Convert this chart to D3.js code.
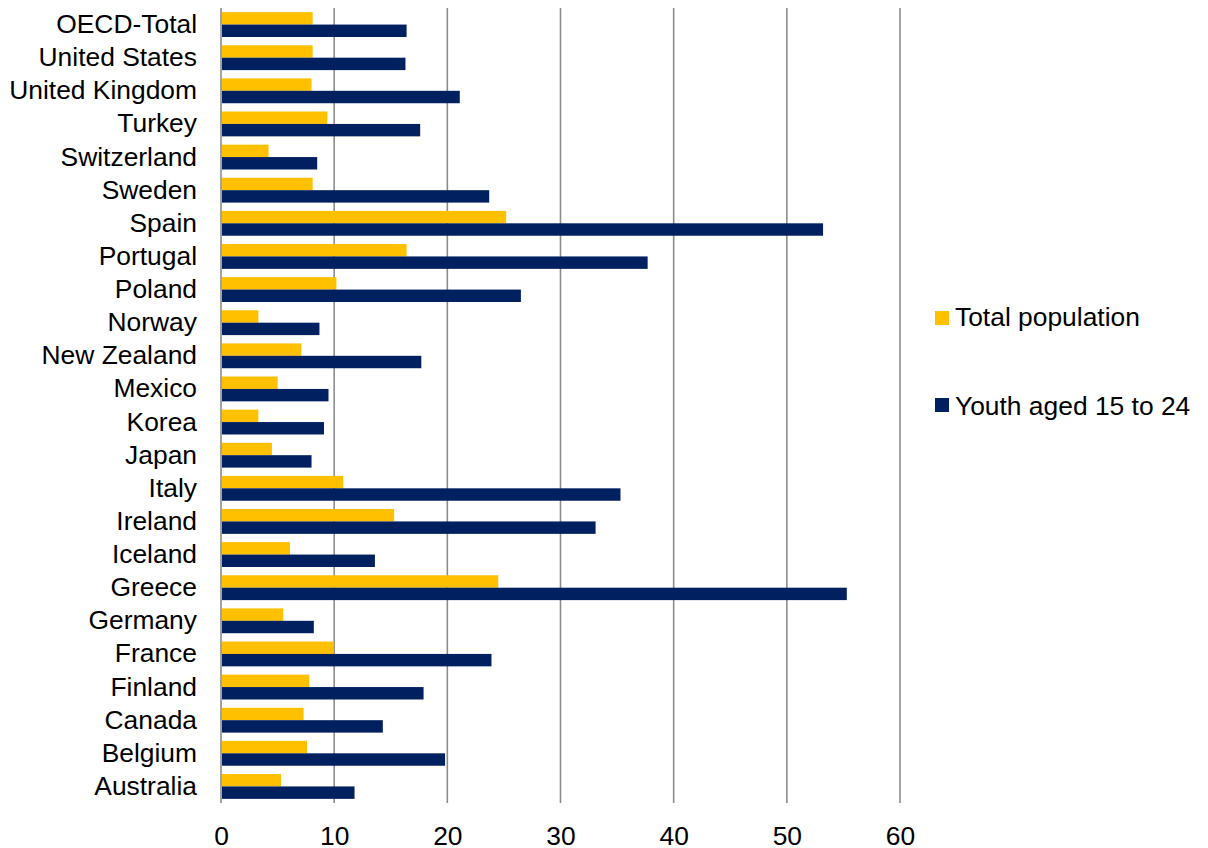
<!DOCTYPE html>
<html>
<head>
<meta charset="utf-8">
<script src="https://cdn.jsdelivr.net/npm/d3@7"></script>
<style>
  html, body { margin: 0; padding: 0; background: #fff; }
  svg { display: block; }
  text { font-family: "Liberation Sans", Arial, sans-serif; fill: #000; }
</style>
</head>
<body>
<svg id="chart" width="1208" height="848"></svg>
<script>
const categories = ["OECD-Total","United States","United Kingdom","Turkey","Switzerland","Sweden","Spain","Portugal","Poland","Norway","New Zealand","Mexico","Korea","Japan","Italy","Ireland","Iceland","Greece","Germany","France","Finland","Canada","Belgium","Australia"];
const totalPopulation = [8.1, 8.1, 8.0, 9.4, 4.2, 8.1, 25.2, 16.4, 10.2, 3.3, 7.1, 5.0, 3.3, 4.5, 10.8, 15.3, 6.1, 24.5, 5.5, 9.9, 7.8, 7.3, 7.6, 5.3];
const youth = [16.4, 16.3, 21.1, 17.6, 8.5, 23.7, 53.2, 37.7, 26.5, 8.7, 17.7, 9.5, 9.1, 8.0, 35.3, 33.1, 13.6, 55.3, 8.2, 23.9, 17.9, 14.3, 19.8, 11.8];
const xTicks = [0, 10, 20, 30, 40, 50, 60];
const seriesNames = ["Total population", "Youth aged 15 to 24"];
const seriesColors = ["#FFC000", "#002060"];

const svg = d3.select("#chart");
const pLeft = 221, pRight = 900, pTop = 8, pBottom = 803;

const x = d3.scaleLinear().domain([0, 60]).range([pLeft, pRight]);
const y = d3.scaleBand().domain(categories).range([pTop, pBottom]).paddingInner(0.25).paddingOuter(0.125);
const sub = d3.scaleBand().domain([0, 1]).range([0, y.bandwidth()]);

// gridlines
svg.append("g").selectAll("line").data(xTicks).join("line")
  .attr("x1", d => x(d)).attr("x2", d => x(d))
  .attr("y1", pTop).attr("y2", pBottom)
  .attr("stroke", "#8c8c8c").attr("stroke-width", 1.6);

// bars
const rows = categories.map((c, i) => ({ c, vals: [totalPopulation[i], youth[i]] }));
const g = svg.append("g");
rows.forEach(r => {
  r.vals.forEach((v, s) => {
    g.append("rect")
      .attr("x", x(0) + 1)
      .attr("y", y(r.c) + sub(s))
      .attr("width", x(v) - x(0) - 1)
      .attr("height", sub.bandwidth())
      .attr("fill", seriesColors[s]);
  });
});

// y labels
const yAxis = d3.axisLeft(y).tickSize(0).tickPadding(24);
const ya = svg.append("g").attr("transform", `translate(${pLeft},0)`).call(yAxis);
ya.select(".domain").remove();
ya.selectAll("text").style("font-size", "26.4px").style("font-family", '"Liberation Sans", Arial, sans-serif').attr("fill", "#000");

// x labels
const xAxis = d3.axisBottom(x).tickValues(xTicks).tickSize(0).tickPadding(0);
const xa = svg.append("g").attr("transform", `translate(0,${pBottom})`).call(xAxis);
xa.select(".domain").remove();
xa.selectAll("text").attr("dy", null).attr("y", 42)
  .style("font-size", "26.4px").style("font-family", '"Liberation Sans", Arial, sans-serif').attr("fill", "#000");

// legend
const legend = svg.append("g");
const legY = [326, 415];
seriesNames.forEach((n, i) => {
  legend.append("rect").attr("x", 935).attr("y", legY[i] - 15 - (i ? 2 : 0)).attr("width", 14).attr("height", 14).attr("fill", seriesColors[i]);
  legend.append("text").attr("x", 955).attr("y", legY[i]).style("font-size", "26.4px").text(n);
});
</script>
</body>
</html>
